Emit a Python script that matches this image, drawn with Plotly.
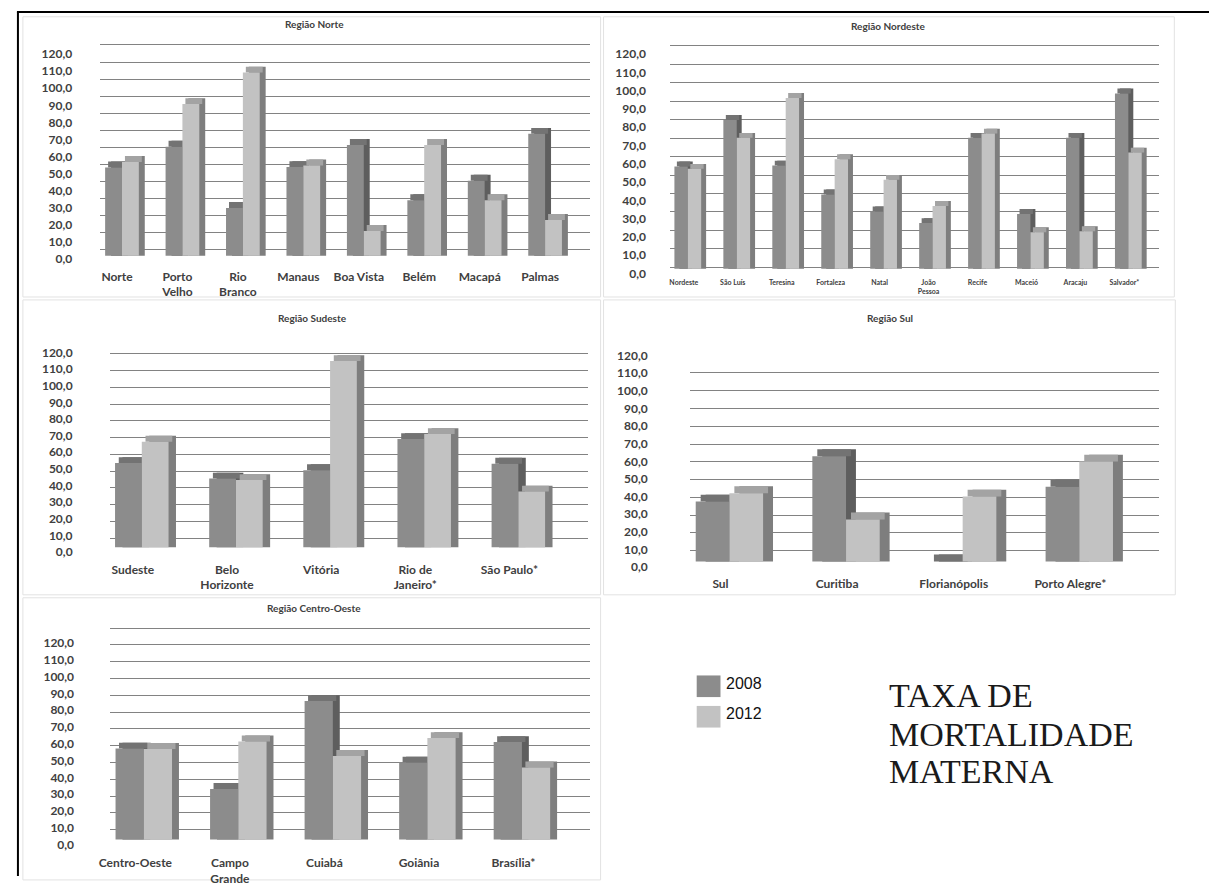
import plotly.graph_objects as go

W, H = 1209, 886

# ---------------- data: taxa de mortalidade materna (2008 x 2012) ----------------
norte_cidades = ["Norte", "Porto<br>Velho", "Rio<br>Branco", "Manaus", "Boa Vista", "Belém", "Macapá", "Palmas"]
norte_2008 = [51.8, 64.0, 28.0, 52.0, 65.0, 32.6, 44.0, 71.5]
norte_2012 = [55.0, 89.0, 107.5, 53.0, 14.5, 65.0, 32.6, 21.0]

nordeste_cidades = ["Nordeste", "São Luís", "Teresina", "Fortaleza", "Natal", "João<br>Pessoa",
                    "Recife", "Maceió", "Aracaju", "Salvador*"]
nordeste_2008 = [56.0, 81.5, 56.5, 40.7, 31.4, 25.0, 71.7, 30.0, 71.7, 96.0]
nordeste_2012 = [54.7, 71.7, 93.5, 60.0, 48.7, 34.4, 74.0, 20.0, 20.6, 63.6]

sudeste_cidades = ["Sudeste", "Belo<br>Horizonte", "Vitória", "Rio de<br>Janeiro*", "São Paulo*"]
sudeste_2008 = [50.6, 41.3, 46.3, 65.0, 50.2]
sudeste_2012 = [63.4, 40.4, 111.8, 68.0, 33.5]

sul_cidades = ["Sul", "Curitiba", "Florianópolis", "Porto Alegre*"]
sul_2008 = [34.0, 59.7, 0.0, 42.4]
sul_2012 = [38.7, 23.8, 36.8, 56.7]

co_cidades = ["Centro-Oeste", "Campo<br>Grande", "Cuiabá", "Goiânia", "Brasília*"]
co_2008 = [54.2, 30.2, 82.5, 45.9, 58.1]
co_2012 = [54.0, 58.5, 49.8, 60.5, 43.0]

anos = ["2008", "2012"]
escala_vals = list(range(0, 121, 10))
escala_txt = [f"{v},0" for v in escala_vals]

# ---------------- styling ----------------
# (front face, top face, side face) per year
CORES = {
    "2008": ("#8c8c8c", "#737373", "#5e5e5e"),
    "2012": ("#c2c2c2", "#a3a3a3", "#7e7e7e"),
}
COR_GRADE = "#828282"
COR_TXT = "#404040"
FONTE = "Lato"

# panel geometry in pixels (plot box, category spacing, faux-3D depth, wall/label/floor zeros)
paineis = [
    dict(titulo="Região Norte", cats=norte_cidades, v08=norte_2008, v12=norte_2012,
         L=90, R=584, c0=107, s=61, shift=5, bw=17, dx=6, dy=6, T=38, B=259,
         g0=249, gp10=17.36, grade=list(range(0, 121, 10)), l0=258, lp10=17.33, f0=255,
         xfs=12, xstand=8, ystand=27, tx=306, ty=19, frame=(12, 12, 595, 297)),
    dict(titulo="Região Nordeste", cats=nordeste_cidades, v08=nordeste_2008, v12=nordeste_2012,
         L=665, R=1159, c0=679, s=49.4, shift=4, bw=13.5, dx=5, dy=5, T=38, B=274,
         g0=266.7, gp10=18.75, grade=list(range(0, 121, 10)), l0=273, lp10=18.58, f0=268.3,
         xfs=7, xstand=3, ystand=23, tx=885, ty=21, frame=(598, 12, 1174, 297)),
    dict(titulo="Região Sudeste", cats=sudeste_cidades, v08=sudeste_2008, v12=sudeste_2012,
         L=99.5, R=582, c0=123, s=95, shift=9, bw=27, dx=7.5, dy=6, T=350, B=560,
         g0=559.3, gp10=17.03, grade=list(range(10, 121, 10)), l0=556.7, lp10=16.95, f0=551.7,
         xfs=12, xstand=5, ystand=36, tx=304, ty=318, frame=(12, 300, 595, 600)),
    dict(titulo="Região Sul", cats=sul_cidades, v08=sul_2008, v12=sul_2012,
         L=685, R=1159, c0=716, s=117.7, shift=9, bw=34, dx=10, dy=7, T=352, B=574,
         g0=573.1, gp10=18.07, grade=list(range(10, 111, 10)), l0=571.7, lp10=17.92, f0=566,
         xfs=12, xstand=6, ystand=41, tx=887, ty=318, frame=(598, 300, 1175, 600)),
    dict(titulo="Região Centro-Oeste", cats=co_cidades, v08=co_2008, v12=co_2012,
         L=100, R=584, c0=125.5, s=95.4, shift=8.5, bw=28.5, dx=7, dy=6, T=630, B=857,
         g0=856, gp10=17.09, grade=list(range(10, 131, 10)), l0=854, lp10=17.08, f0=849,
         xfs=12, xstand=7, ystand=35, tx=306, ty=613, frame=(12, 603, 595, 890)),
]


def fx(p):
    return p / W


def fy(p):
    return 1 - p / H


def nome(prefixo, i):
    return prefixo if i == 1 else f"{prefixo}{i}"


fig = go.Figure()
layout = {}
shapes = []
annotations = []

for k, P in enumerate(paineis):
    xi = k + 1
    yw, yl, yb = 3 * k + 1, 3 * k + 2, 3 * k + 3
    xid, ywid, ylid, ybid = nome("x", xi), nome("y", yw), nome("y", yl), nome("y", yb)
    n = len(P["cats"])
    idx = list(range(n))

    s = P["s"]
    r0 = -(P["c0"] - P["L"]) / s
    r1 = r0 + (P["R"] - P["L"]) / s
    dom_y = [fy(P["B"]), fy(P["T"])]

    layout[nome("xaxis", xi)] = dict(
        domain=[fx(P["L"]), fx(P["R"])], range=[r0, r1], anchor=ywid,
        tickmode="array", tickvals=idx, ticktext=P["cats"],
        showgrid=False, zeroline=False, showline=False, ticks="",
        ticklabelstandoff=P["xstand"],
        tickfont=dict(family=FONTE, size=P["xfs"], color=COR_TXT, weight="bold"),
        fixedrange=True,
    )
    gp = P["gp10"] / 10
    lp = P["lp10"] / 10
    # back wall: gridlines only
    layout[nome("yaxis", yw)] = dict(
        domain=dom_y, anchor=xid,
        range=[(P["g0"] - P["B"]) / gp, (P["g0"] - P["T"]) / gp],
        tickmode="array", tickvals=P["grade"], showticklabels=False,
        showgrid=True, gridcolor=COR_GRADE, gridwidth=1.3,
        zeroline=False, showline=False, ticks="", fixedrange=True,
    )
    # value scale labels
    layout[nome("yaxis", yl)] = dict(
        domain=dom_y, anchor=xid, overlaying=ywid,
        range=[(P["l0"] - P["B"]) / lp, (P["l0"] - P["T"]) / lp],
        tickmode="array", tickvals=escala_vals, ticktext=escala_txt,
        showgrid=False, zeroline=False, showline=False, ticks="",
        ticklabelstandoff=P["ystand"],
        tickfont=dict(family=FONTE, size=12, color=COR_TXT, weight="bold"),
        fixedrange=True,
    )
    # floor scale used by the columns
    layout[nome("yaxis", yb)] = dict(
        domain=dom_y, anchor=xid, overlaying=ywid,
        range=[(P["f0"] - P["B"]) / lp, (P["f0"] - P["T"]) / lp],
        showgrid=False, zeroline=False, showline=False, showticklabels=False,
        ticks="", fixedrange=True,
    )

    for yid in (ywid, ylid):
        fig.add_trace(go.Scatter(x=[0], y=[0], mode="markers", marker=dict(opacity=0),
                                 xaxis=xid, yaxis=yid, hoverinfo="skip", showlegend=False))

    w = P["bw"] / s
    sh = P["shift"] / s
    dxu = P["dx"] / s
    dyu = P["dy"] / lp

    series = ((anos[0], P["v08"], sh - w), (anos[1], P["v12"], sh))
    # side faces, then top faces, then the front faces
    for ano, vals, off in series:
        fig.add_trace(go.Bar(x=idx, y=[v + dyu for v in vals], offset=off + dxu, width=w,
                             marker=dict(color=CORES[ano][2], line=dict(width=0)),
                             xaxis=xid, yaxis=ybid, hoverinfo="skip", showlegend=False))
    for ano, vals, off in series:
        fig.add_trace(go.Bar(x=idx, y=[dyu] * n, base=vals, offset=off + dxu / 2, width=w,
                             marker=dict(color=CORES[ano][1], line=dict(width=0)),
                             xaxis=xid, yaxis=ybid, hoverinfo="skip", showlegend=False))
    for ano, vals, off in series:
        fig.add_trace(go.Bar(x=idx, y=vals, offset=off, width=w, name=ano,
                             marker=dict(color=CORES[ano][0], line=dict(width=0)),
                             xaxis=xid, yaxis=ybid, hoverinfo="skip", showlegend=False))

    annotations.append(dict(text=P["titulo"], x=fx(P["tx"]), y=fy(P["ty"]), xref="paper", yref="paper",
                            xanchor="center", yanchor="middle", showarrow=False,
                            font=dict(family=FONTE, size=10, color=COR_TXT, weight="bold")))
    x0, y0, x1, y1 = P["frame"]
    shapes.append(dict(type="rect", xref="paper", yref="paper", x0=fx(x0), x1=fx(x1), y0=fy(y1), y1=fy(y0),
                       line=dict(color="#e2e2e2", width=1), fillcolor="rgba(0,0,0,0)", layer="below"))

# outer border (left and top)
shapes.append(dict(type="line", xref="paper", yref="paper", x0=fx(7), x1=fx(7), y0=0, y1=fy(7),
                   line=dict(color="black", width=2)))
shapes.append(dict(type="line", xref="paper", yref="paper", x0=fx(6), x1=1, y0=fy(7), y1=fy(7),
                   line=dict(color="black", width=2)))

# legend
for i, ano in enumerate(anos):
    top = 682 + i * 31
    shapes.append(dict(type="rect", xref="paper", yref="paper", x0=fx(692), x1=fx(716),
                       y0=fy(top + 22), y1=fy(top), fillcolor=CORES[ano][0], line=dict(width=0)))
    annotations.append(dict(text=ano, x=fx(720), y=fy(top + 8), xref="paper", yref="paper",
                            xanchor="left", yanchor="middle", showarrow=False,
                            font=dict(family="Liberation Sans", size=16, color="#111111")))

# chart title, one line per annotation for tight leading
for linha, yc in zip(["TAXA DE", "MORTALIDADE", "MATERNA"], [702, 742, 780]):
    annotations.append(dict(text=linha, x=fx(884), y=fy(yc), xref="paper", yref="paper",
                            xanchor="left", yanchor="middle", showarrow=False,
                            font=dict(family="Liberation Serif", size=34, color="#1a1a1a")))

fig.update_layout(
    width=W, height=H, margin=dict(l=0, r=0, t=0, b=0),
    paper_bgcolor="white", plot_bgcolor="rgba(0,0,0,0)",
    barmode="overlay", showlegend=False,
    shapes=shapes, annotations=annotations,
    **layout,
)

fig.write_html("out.html")
